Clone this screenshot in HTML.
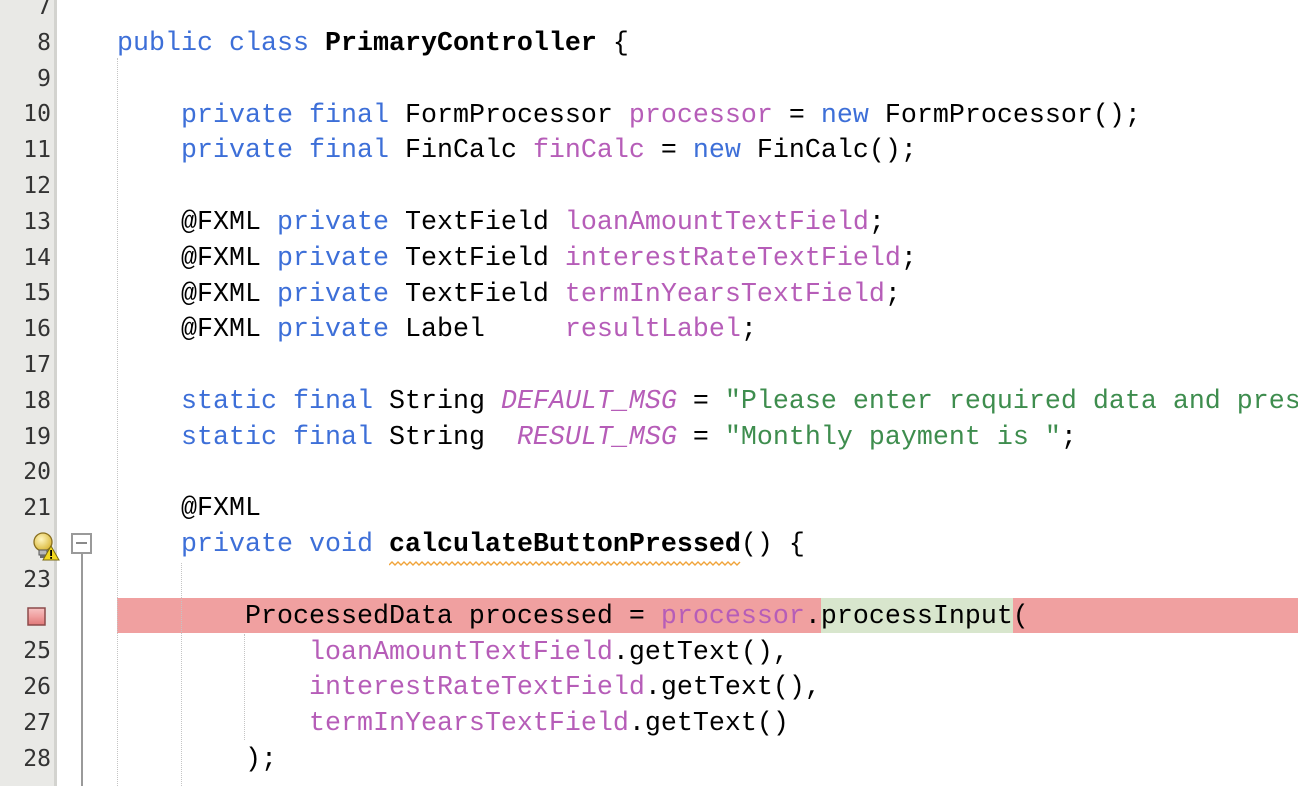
<!DOCTYPE html>
<html>
<head>
<meta charset="utf-8">
<style>
  html, body { margin:0; padding:0; }
  body { width:1298px; height:786px; overflow:hidden; background:#ffffff; position:relative; }
  .gutter { position:absolute; left:0; top:0; width:54px; height:786px; background:#e9e9e6; }
  .gborder { position:absolute; left:54px; top:0; width:3px; height:786px; background:#d3d3cf; }
  .nums { position:absolute; left:0; top:-10px; width:51px; text-align:right;
          font-family:"DejaVu Sans Mono", monospace; font-size:23px; line-height:35.8px; color:#333; white-space:pre; }
  .code { position:absolute; left:117px; top:-8.8px; margin:0; width:1181px; overflow:hidden;
          font-family:"Liberation Mono", monospace; font-size:26.667px; line-height:35.8px; color:#000; white-space:pre; z-index:3; }
  .k { color:#3d6fd8; }
  .f { color:#b65db8; }
  .s { color:#3e8d4e; }
  .i { font-style:italic; }
  .b { font-weight:bold; }
  .guide { position:absolute; width:0; border-left:1px dotted #c4c4c4; z-index:2; }
  .hl { position:absolute; top:598px; height:35px; z-index:1; }
</style>
</head>
<body>
<div class="gutter"></div>
<div class="gborder"></div>
<div class="nums">7
8
9
10
11
12
13
14
15
16
17
18
19
20
21

23

25
26
27
28</div>

<!-- highlights -->
<div class="hl" style="left:117px; width:1181px; background:#f0a0a0;"></div>
<div class="hl" style="left:821px; width:192px; background:#d8e6cd;"></div>

<!-- indent guides -->
<div class="guide" style="left:117px; top:58px; height:728px;"></div>
<div class="guide" style="left:181px; top:563px; height:223px;"></div>
<div class="guide" style="left:244px; top:634px; height:106px;"></div>

<!-- fold marker -->
<div style="position:absolute; left:71px; top:533px; width:17px; height:17px; border:2px solid #9a9a9a; background:#fff; z-index:4;"></div>
<div style="position:absolute; left:76px; top:542px; width:11px; height:2px; background:#8a8a8a; z-index:5;"></div>
<div style="position:absolute; left:81px; top:554px; width:2px; height:232px; background:#9a9a9a; z-index:4;"></div>

<!-- bulb icon -->
<svg style="position:absolute; left:32px; top:532px; z-index:5;" width="28" height="30" viewBox="0 0 28 30">
  <defs>
    <radialGradient id="bg1" cx="0.4" cy="0.35" r="0.7">
      <stop offset="0" stop-color="#fff6c0"/>
      <stop offset="1" stop-color="#d8b430"/>
    </radialGradient>
  </defs>
  <circle cx="11" cy="10" r="9" fill="url(#bg1)" stroke="#8a7020" stroke-width="1.3"/>
  <rect x="7" y="18" width="8" height="5" fill="#b8b8b8" stroke="#555" stroke-width="1"/>
  <rect x="8" y="23" width="6" height="3" fill="#6a6a6a"/>
  <polygon points="19,14 27,28 11,28" fill="#f2d820" stroke="#7a6a10" stroke-width="1"/>
  <rect x="18.2" y="18" width="1.8" height="6" fill="#000"/>
  <rect x="18.2" y="25" width="1.8" height="1.8" fill="#000"/>
</svg>

<!-- breakpoint / error square -->
<svg style="position:absolute; left:27px; top:607px; z-index:5;" width="20" height="20" viewBox="0 0 20 20">
  <defs>
    <linearGradient id="rg" x1="0" y1="0" x2="0" y2="1">
      <stop offset="0" stop-color="#f7c4c4"/>
      <stop offset="0.5" stop-color="#f0a0a0"/>
      <stop offset="1" stop-color="#e07878"/>
    </linearGradient>
  </defs>
  <rect x="1" y="1" width="17" height="17" fill="url(#rg)" stroke="#8c4a4a" stroke-width="1.5"/>
</svg>

<!-- wavy underline -->
<svg style="position:absolute; left:389px; top:560px; z-index:4;" width="354" height="8" viewBox="0 0 354 8">
  <path d="M0,5 L3,2 L6,5 L9,2 L12,5 L15,2 L18,5 L21,2 L24,5 L27,2 L30,5 L33,2 L36,5 L39,2 L42,5 L45,2 L48,5 L51,2 L54,5 L57,2 L60,5 L63,2 L66,5 L69,2 L72,5 L75,2 L78,5 L81,2 L84,5 L87,2 L90,5 L93,2 L96,5 L99,2 L102,5 L105,2 L108,5 L111,2 L114,5 L117,2 L120,5 L123,2 L126,5 L129,2 L132,5 L135,2 L138,5 L141,2 L144,5 L147,2 L150,5 L153,2 L156,5 L159,2 L162,5 L165,2 L168,5 L171,2 L174,5 L177,2 L180,5 L183,2 L186,5 L189,2 L192,5 L195,2 L198,5 L201,2 L204,5 L207,2 L210,5 L213,2 L216,5 L219,2 L222,5 L225,2 L228,5 L231,2 L234,5 L237,2 L240,5 L243,2 L246,5 L249,2 L252,5 L255,2 L258,5 L261,2 L264,5 L267,2 L270,5 L273,2 L276,5 L279,2 L282,5 L285,2 L288,5 L291,2 L294,5 L297,2 L300,5 L303,2 L306,5 L309,2 L312,5 L315,2 L318,5 L321,2 L324,5 L327,2 L330,5 L333,2 L336,5 L339,2 L342,5 L345,2 L348,5 L351,2" fill="none" stroke="#f0a43a" stroke-width="1.4"/>
</svg>

<pre class="code"> 
<span class="k">public</span> <span class="k">class</span> <span class="b">PrimaryController</span> {

    <span class="k">private</span> <span class="k">final</span> FormProcessor <span class="f">processor</span> = <span class="k">new</span> FormProcessor();
    <span class="k">private</span> <span class="k">final</span> FinCalc <span class="f">finCalc</span> = <span class="k">new</span> FinCalc();

    @FXML <span class="k">private</span> TextField <span class="f">loanAmountTextField</span>;
    @FXML <span class="k">private</span> TextField <span class="f">interestRateTextField</span>;
    @FXML <span class="k">private</span> TextField <span class="f">termInYearsTextField</span>;
    @FXML <span class="k">private</span> Label     <span class="f">resultLabel</span>;

    <span class="k">static</span> <span class="k">final</span> String <span class="f i">DEFAULT_MSG</span> = <span class="s">"Please enter required data and pres</span>
    <span class="k">static</span> <span class="k">final</span> String  <span class="f i">RESULT_MSG</span> = <span class="s">"Monthly payment is "</span>;

    @FXML
    <span class="k">private</span> <span class="k">void</span> <span class="b">calculateButtonPressed</span>() {

        ProcessedData processed = <span class="f">processor</span>.processInput(
            <span class="f">loanAmountTextField</span>.getText(),
            <span class="f">interestRateTextField</span>.getText(),
            <span class="f">termInYearsTextField</span>.getText()
        );
</pre>
</body>
</html>
